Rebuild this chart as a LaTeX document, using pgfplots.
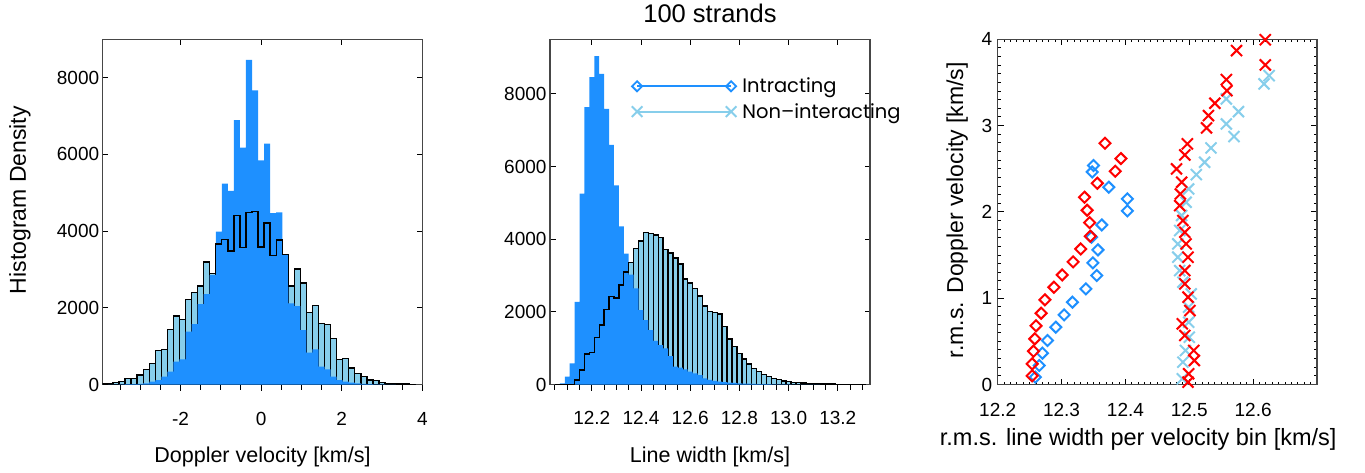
\documentclass[border=0pt]{standalone}
\usepackage{pgfplots}
\usepackage{pgfplotstable}
\pgfplotsset{compat=1.18}
\usepackage{fontspec}
\setmainfont{Liberation Sans}
\newfontfamily\legfont{Poppins}
\definecolor{dblue}{RGB}{30,144,255}
\definecolor{sky}{RGB}{135,206,235}
\definecolor{axc}{RGB}{70,70,70}

\pgfplotstableread{
x B L
-3.975 0 13
-3.825 0 30
-3.675 0 56
-3.525 5 82
-3.375 8 161
-3.225 12 161
-3.075 18 247
-2.925 30 395
-2.775 74 551
-2.625 117 881
-2.475 204 916
-2.325 334 1437
-2.175 595 1784
-2.025 655 1697
-1.875 1376 2218
-1.725 1576 2400
-1.575 2096 2573
-1.425 2356 3199
-1.275 2851 2895
-1.125 3988 3659
-0.975 5239 3780
-0.825 5047 3485
-0.675 6896 4414
-0.525 6176 3572
-0.375 8467 4488
-0.225 7669 4505
-0.075 5846 3589
0.075 6280 4214
0.225 4470 3364
0.375 4487 3763
0.525 3390 3390
0.675 2113 2565
0.825 2044 3016
0.975 1419 2651
1.125 829 1870
1.275 916 2061
1.425 464 1593
1.575 395 1558
1.725 204 1202
1.875 117 655
2.025 74 681
2.175 48 430
2.325 30 290
2.475 15 204
2.625 8 117
2.775 5 100
2.925 3 48
3.075 0 30
3.225 0 20
3.375 0 13
3.525 0 10
3.675 0 5
3.825 0 5
}\leftdata

\pgfplotstableread{
x B L
12.05 10 0
12.07 30 0
12.09 215 0
12.11 582 0
12.13 2276 124
12.15 5252 398
12.17 7632 838
12.19 8457 884
12.21 9034 1296
12.23 8549 1635
12.25 7586 2066
12.27 6597 2414
12.29 5480 2386
12.31 4354 2734
12.33 3604 3100
12.35 3027 3357
12.37 2643 3741
12.39 2048 3952
12.41 1773 4181
12.43 1499 4153
12.45 1204 4117
12.47 1085 4053
12.49 994 3723
12.51 783 3622
12.53 490 3485
12.55 462 3311
12.57 417 2908
12.59 353 2798
12.61 307 2643
12.63 261 2432
12.65 169 2158
12.67 124 2002
12.69 100 1975
12.71 80 1938
12.73 65 1600
12.75 52 1250
12.77 42 1050
12.79 34 860
12.81 27 700
12.83 21 560
12.85 16 440
12.87 12 360
12.89 9 280
12.91 7 215
12.93 5 170
12.95 4 130
12.97 3 100
12.99 2 80
13.01 0 62
13.03 0 50
13.05 0 40
13.07 0 32
13.09 0 25
13.11 0 20
13.13 0 15
13.15 0 12
13.17 0 10
13.19 0 8
13.21 0 6
13.23 0 5
13.25 0 4
13.27 0 3
13.29 0 2
13.31 0 2
}\middata

\pgfplotsset{
  base/.style={
    scale only axis, height=345.2pt, anchor=south west,
    axis line style={axc, line width=1.2pt},
    tick style={black, line width=1pt},
    tick label style={font=\fontsize{19}{19}\selectfont},
    /pgf/number format/assume math mode=true,
    scaled ticks=false,
    yticklabel style={/pgf/number format/set thousands separator={}},
  },
  bottomticks/.style={
    scale only axis, height=345.2pt, anchor=south west,
    hide y axis, axis x line*=bottom, axis line style={draw=none},
    tick align=outside, xticklabels={},
    tick style={black, line width=1pt},
    major tick length=6pt, minor tick length=5pt,
  },
}

\begin{document}
\begin{tikzpicture}
\useasboundingbox (0,0) rectangle (1365pt,472pt);

% ---------------- left panel ----------------
\begin{axis}[bottomticks, at={(102.7pt,87.5pt)}, width=319.6pt,
  xmin=-3.93, xmax=4, ymin=0, ymax=9000,
  xtick={-2,0,2,4}, minor xtick={-3.5,-3,-2.5,-1.5,-1,-0.5,0.5,1,1.5,2.5,3,3.5}]
\end{axis}
\begin{axis}[base, at={(102.7pt,87.5pt)}, width=319.6pt,
  xmin=-3.93, xmax=4, ymin=0, ymax=9000,
  tick align=inside, xtick pos=right, xticklabel pos=left, ytick pos=both, yticklabel pos=left,
  major tick length=5.5pt,
  xtick={-2,0,2,4}, ytick={0,2000,4000,6000,8000},
  xticklabel shift=24pt,
  xlabel={Doppler velocity [km/s]}, ylabel={Histogram Density},
  x label style={font=\fontsize{21.5}{21.5}\selectfont, at={(axis description cs:0.5,-0.21)}, anchor=center},
  y label style={font=\fontsize{23}{23}\selectfont, at={(axis description cs:-0.259,0.534)}, anchor=center},
]
\addplot[ybar interval, fill=sky, draw=black, line width=1.4pt] table[x=x,y=L]{\leftdata};
\addplot[ybar interval, fill=dblue, draw=none] table[x=x,y=B]{\leftdata};
\addplot[const plot, black, line width=1.4pt] table[x=x,y=L]{\leftdata};
\end{axis}

% ---------------- middle panel ----------------
\begin{axis}[bottomticks, at={(550pt,87.5pt)}, width=320pt,
  xmin=12.03, xmax=13.331, ymin=0, ymax=9500,
  xtick={12.2,12.4,12.6,12.8,13.0,13.2},
  minor xtick={12.05,12.1,12.15,12.25,12.3,12.35,12.45,12.5,12.55,12.65,12.7,12.75,12.85,12.9,12.95,13.05,13.1,13.15,13.25,13.3}]
\end{axis}
\begin{axis}[base, at={(550pt,87.5pt)}, width=320pt,
  xmin=12.03, xmax=13.331, ymin=0, ymax=9500,
  tick align=inside, xtick pos=right, xticklabel pos=left, ytick pos=both, yticklabel pos=left,
  major tick length=5.5pt,
  xtick={12.2,12.4,12.6,12.8,13.0,13.2}, ytick={0,2000,4000,6000,8000},
  xticklabel style={/pgf/number format/.cd, fixed, fixed zerofill, precision=1},
  xticklabel shift=23pt,
  xlabel={Line width [km/s]},
  x label style={font=\fontsize{21.5}{21.5}\selectfont, at={(axis description cs:0.5,-0.21)}, anchor=center},
  title={100 strands},
  title style={font=\fontsize{25.5}{25.5}\selectfont, at={(axis description cs:0.5,1)}, anchor=center, yshift=20pt},
  legend image code/.code={\draw[mark repeat=1,#1] plot coordinates {(0pt,0pt) (94pt,0pt)};},
  legend style={at={(axis description cs:0.255,0.894)}, anchor=north west, draw=none, fill=none,
    inner sep=0pt, font=\legfont\fontsize{19.5}{19.5}\selectfont, row sep=5pt,
    nodes={inner xsep=6pt}},
  legend cell align=left,
]
\addlegendimage{dblue, line width=1.8pt, mark=square, mark size=3.6pt, mark options={rotate=45, solid, line width=1.8pt}}
\addlegendentry{Intracting}
\addlegendimage{sky, line width=2pt, mark=x, mark size=7.5pt, mark options={solid, line width=2pt}}
\addlegendentry{Non–interacting}
\addplot[ybar interval, fill=sky, draw=black, line width=1.4pt, forget plot] table[x=x,y=L]{\middata};
\addplot[ybar interval, fill=dblue, draw=none, forget plot] table[x=x,y=B]{\middata};
\addplot[const plot, black, line width=1.4pt, forget plot] table[x=x,y=L]{\middata};
\end{axis}

% ---------------- right panel ----------------
\begin{axis}[base, at={(997.7pt,87.5pt)}, width=319.3pt,
  xmin=12.2, xmax=12.7, ymin=0, ymax=4,
  tick align=inside, xtick pos=both, ytick pos=both, xticklabel pos=left, yticklabel pos=left,
  major tick length=6pt, minor tick length=3pt,
  xtick={12.2,12.3,12.4,12.5,12.6}, ytick={0,1,2,3,4},
  minor xtick={12.21,12.22,12.23,12.24,12.25,12.26,12.27,12.28,12.29,12.31,12.32,12.33,12.34,12.35,12.36,12.37,12.38,12.39,12.41,12.42,12.43,12.44,12.45,12.46,12.47,12.48,12.49,12.51,12.52,12.53,12.54,12.55,12.56,12.57,12.58,12.59,12.61,12.62,12.63,12.64,12.65,12.66,12.67,12.68,12.69},
  minor ytick={0.1,0.2,0.3,0.4,0.5,0.6,0.7,0.8,0.9,1.1,1.2,1.3,1.4,1.5,1.6,1.7,1.8,1.9,2.1,2.2,2.3,2.4,2.5,2.6,2.7,2.8,2.9,3.1,3.2,3.3,3.4,3.5,3.6,3.7,3.8,3.9},
  xticklabel style={/pgf/number format/.cd, fixed, fixed zerofill, precision=1},
  xticklabel shift=15pt, yticklabel shift=2pt,
  xlabel={r.m.s. line width per velocity bin [km/s]},
  ylabel={r.m.s. Doppler velocity [km/s]},
  x label style={font=\fontsize{23.5}{23.5}\selectfont, at={(axis description cs:0.44,-0.16)}, anchor=center},
  y label style={font=\fontsize{23}{23}\selectfont, at={(axis description cs:-0.127,0.505)}, anchor=center},
]
\addplot[only marks, dblue, mark=square, mark size=3.9pt, mark options={rotate=45, line width=2pt}] coordinates {
(12.350,2.537) (12.348,2.463) (12.374,2.286) (12.403,2.151) (12.403,2.012) (12.363,1.849) (12.347,1.707) (12.357,1.560) (12.349,1.409) (12.355,1.263) (12.338,1.108) (12.317,0.954) (12.304,0.807) (12.291,0.664) (12.278,0.510) (12.270,0.363) (12.265,0.220) (12.259,0.085)};
\addplot[only marks, sky, mark=x, mark size=7.8pt, mark options={line width=2pt}] coordinates {
(12.625,3.579) (12.617,3.483) (12.558,3.309) (12.577,3.162) (12.558,3.019) (12.570,2.873) (12.534,2.741) (12.524,2.575) (12.511,2.432) (12.499,2.266) (12.495,2.112) (12.488,1.958) (12.485,1.784) (12.482,1.629) (12.482,1.475) (12.485,1.320) (12.490,1.185) (12.503,1.050) (12.499,0.896) (12.499,0.722) (12.500,0.548) (12.494,0.394) (12.490,0.259) (12.489,0.066)};
\addplot[only marks, red, mark=square, mark size=3.9pt, mark options={rotate=45, line width=2pt}] coordinates {
(12.368,2.795) (12.393,2.618) (12.384,2.471) (12.356,2.332) (12.336,2.170) (12.340,2.019) (12.344,1.876) (12.345,1.718) (12.330,1.571) (12.318,1.421) (12.301,1.270) (12.288,1.127) (12.274,0.981) (12.268,0.826) (12.260,0.680) (12.258,0.529) (12.256,0.386) (12.254,0.239) (12.254,0.100)};
\addplot[only marks, red, mark=x, mark size=7.8pt, mark options={line width=2pt}] coordinates {
(12.619,3.995) (12.574,3.869) (12.619,3.703) (12.558,3.533) (12.559,3.405) (12.540,3.259) (12.530,3.116) (12.527,2.973) (12.497,2.788) (12.493,2.660) (12.480,2.498) (12.488,2.344) (12.486,2.208) (12.485,2.073) (12.490,1.900) (12.493,1.764) (12.495,1.629) (12.498,1.475) (12.493,1.320) (12.493,1.166) (12.498,1.012) (12.501,0.857) (12.489,0.703) (12.493,0.568) (12.507,0.394) (12.508,0.278) (12.499,0.124) (12.498,0.027)};
\end{axis}
\end{tikzpicture}
\end{document}
